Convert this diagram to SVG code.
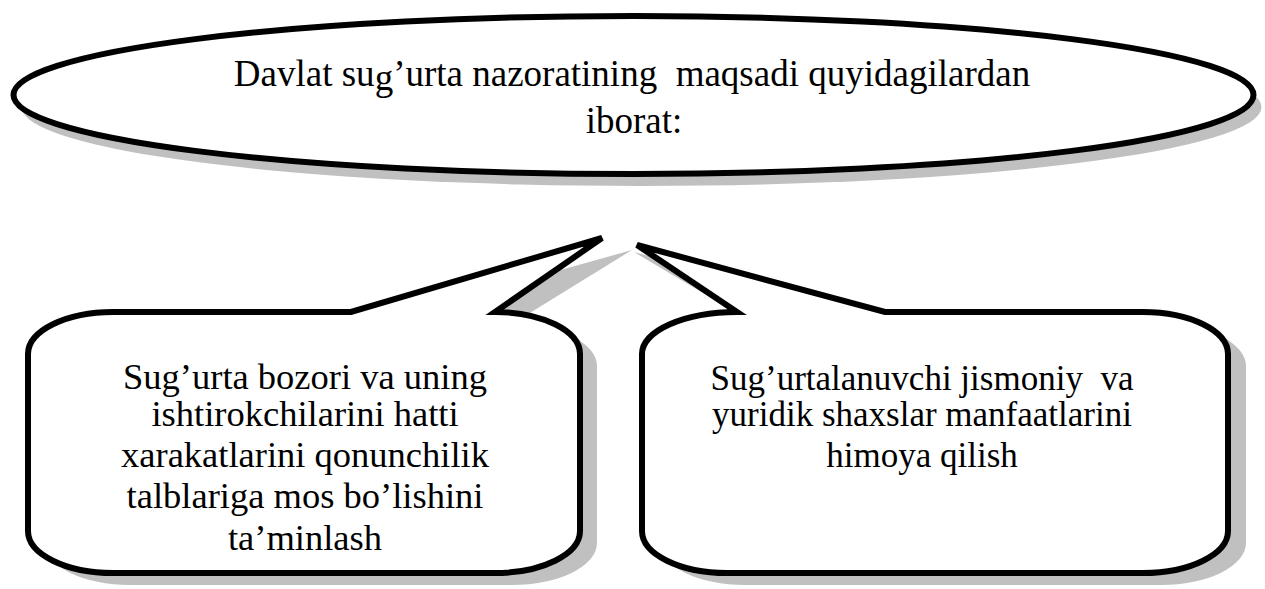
<svg xmlns="http://www.w3.org/2000/svg" width="1265" height="589" viewBox="0 0 1265 589">
<style>
.shadow{fill:#c0c0c0;stroke:none}
.shape{fill:#ffffff;stroke:#000000;stroke-width:6;stroke-linejoin:miter}
.t{font-family:"Liberation Serif","Times New Roman",serif;fill:#000000;text-anchor:middle;white-space:pre}
.e{font-size:37px}
.l{font-size:36.5px}
.r{font-size:35px}
</style>
<rect width="1265" height="589" fill="#ffffff"/>
<g id="goal">
<ellipse class="shadow" cx="641.5" cy="107" rx="620" ry="79"/>
<ellipse class="shape" cx="633.5" cy="95" rx="620" ry="79"/>
<text class="t e" x="632" y="86" xml:space="preserve">Davlat su<tspan dy="4">g</tspan><tspan dy="-4">’urta nazoratining  maqsadi quyidagilardan</tspan></text>
<text class="t e" x="634" y="133">iborat:</text>
</g>
<g id="connectors"></g>
<g id="left-callout">
<path class="shadow" d="M 45,366 A 85,42 0 0 1 130,324 L 368,324 L 632,250 L 512,324 A 85,42 0 0 1 597,366 L 597,543 A 85,42 0 0 1 512,585 L 130,585 A 85,42 0 0 1 45,543 Z"/>
<path class="shape" d="M 28,354 A 85,42 0 0 1 113,312 L 351,312 L 602,238 L 495,312 A 85,42 0 0 1 580,354 L 580,531 A 85,42 0 0 1 495,573 L 113,573 A 85,42 0 0 1 28,531 Z"/>
<text class="t l" x="305" y="389">Sug’urta bozori va uning</text>
<text class="t l" x="305" y="426">ishtirokchilarini hatti</text>
<text class="t l" x="305" y="467">xarakatlarini qonunchilik</text>
<text class="t l" x="305" y="508">talblariga mos bo’lishini</text>
<text class="t l" x="305" y="550">ta’minlash</text>
</g>
<g id="right-callout">
<path class="shadow" d="M 660,366 A 95,42 0 0 1 755,324 L 634,252 L 903,324 L 1161,324 A 85,42 0 0 1 1246,366 L 1246,543 A 85,42 0 0 1 1161,585 L 745,585 A 85,42 0 0 1 660,543 Z"/>
<path class="shape" d="M 642,354 A 95,42 0 0 1 737,312 L 637,245 L 885,312 L 1143,312 A 85,42 0 0 1 1228,354 L 1228,531 A 85,42 0 0 1 1143,573 L 727,573 A 85,42 0 0 1 642,531 Z"/>
<text class="t r" x="922" y="390" xml:space="preserve">Sug’urtalanuvchi jismoniy  va</text>
<text class="t r" x="922" y="426">yuridik shaxslar manfaatlarini</text>
<text class="t r" x="922" y="467">himoya qilish</text>
</g>
</svg>
